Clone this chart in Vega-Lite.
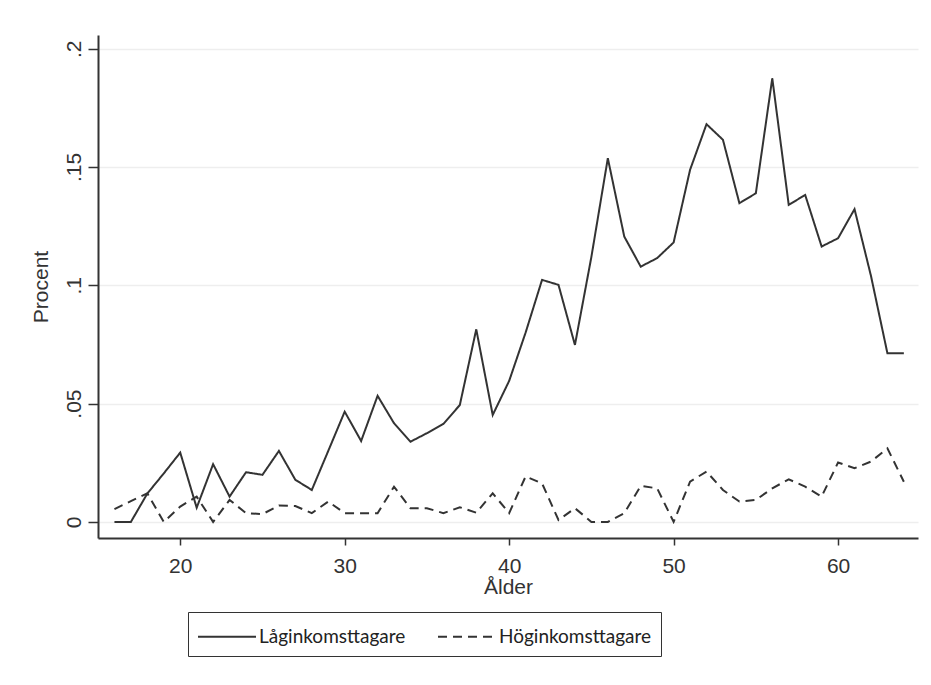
{
  "$schema": "https://vega.github.io/schema/vega-lite/v6.json",
  "autosize": {"type": "none"},
  "padding": {"left": 98, "top": 35, "right": 13, "bottom": 147},
  "width": 820,
  "height": 503,
  "background": "white",
  "config": {
    "view": {"stroke": null},
    "font": "Liberation Sans"
  },
  "data": {
    "values": [
      {"alder": 16, "grupp": "Låginkomsttagare", "procent": 0},
      {"alder": 17, "grupp": "Låginkomsttagare", "procent": 0},
      {"alder": 18, "grupp": "Låginkomsttagare", "procent": 0.012},
      {"alder": 19, "grupp": "Låginkomsttagare", "procent": 0.0205},
      {"alder": 20, "grupp": "Låginkomsttagare", "procent": 0.0293},
      {"alder": 21, "grupp": "Låginkomsttagare", "procent": 0.006},
      {"alder": 22, "grupp": "Låginkomsttagare", "procent": 0.0244},
      {"alder": 23, "grupp": "Låginkomsttagare", "procent": 0.0107},
      {"alder": 24, "grupp": "Låginkomsttagare", "procent": 0.021},
      {"alder": 25, "grupp": "Låginkomsttagare", "procent": 0.0199},
      {"alder": 26, "grupp": "Låginkomsttagare", "procent": 0.030},
      {"alder": 27, "grupp": "Låginkomsttagare", "procent": 0.0178},
      {"alder": 28, "grupp": "Låginkomsttagare", "procent": 0.0135},
      {"alder": 29, "grupp": "Låginkomsttagare", "procent": 0.030},
      {"alder": 30, "grupp": "Låginkomsttagare", "procent": 0.0466},
      {"alder": 31, "grupp": "Låginkomsttagare", "procent": 0.0342},
      {"alder": 32, "grupp": "Låginkomsttagare", "procent": 0.0533},
      {"alder": 33, "grupp": "Låginkomsttagare", "procent": 0.0417},
      {"alder": 34, "grupp": "Låginkomsttagare", "procent": 0.0339},
      {"alder": 35, "grupp": "Låginkomsttagare", "procent": 0.0375},
      {"alder": 36, "grupp": "Låginkomsttagare", "procent": 0.0414},
      {"alder": 37, "grupp": "Låginkomsttagare", "procent": 0.0494},
      {"alder": 38, "grupp": "Låginkomsttagare", "procent": 0.0814},
      {"alder": 39, "grupp": "Låginkomsttagare", "procent": 0.0452},
      {"alder": 40, "grupp": "Låginkomsttagare", "procent": 0.0596},
      {"alder": 41, "grupp": "Låginkomsttagare", "procent": 0.080},
      {"alder": 42, "grupp": "Låginkomsttagare", "procent": 0.1023},
      {"alder": 43, "grupp": "Låginkomsttagare", "procent": 0.1002},
      {"alder": 44, "grupp": "Låginkomsttagare", "procent": 0.0748},
      {"alder": 45, "grupp": "Låginkomsttagare", "procent": 0.112},
      {"alder": 46, "grupp": "Låginkomsttagare", "procent": 0.1537},
      {"alder": 47, "grupp": "Låginkomsttagare", "procent": 0.1206},
      {"alder": 48, "grupp": "Låginkomsttagare", "procent": 0.1079},
      {"alder": 49, "grupp": "Låginkomsttagare", "procent": 0.1115},
      {"alder": 50, "grupp": "Låginkomsttagare", "procent": 0.1181},
      {"alder": 51, "grupp": "Låginkomsttagare", "procent": 0.1488},
      {"alder": 52, "grupp": "Låginkomsttagare", "procent": 0.1681},
      {"alder": 53, "grupp": "Låginkomsttagare", "procent": 0.1615},
      {"alder": 54, "grupp": "Låginkomsttagare", "procent": 0.1347},
      {"alder": 55, "grupp": "Låginkomsttagare", "procent": 0.1389},
      {"alder": 56, "grupp": "Låginkomsttagare", "procent": 0.1875},
      {"alder": 57, "grupp": "Låginkomsttagare", "procent": 0.134},
      {"alder": 58, "grupp": "Låginkomsttagare", "procent": 0.1382},
      {"alder": 59, "grupp": "Låginkomsttagare", "procent": 0.1164},
      {"alder": 60, "grupp": "Låginkomsttagare", "procent": 0.1199},
      {"alder": 61, "grupp": "Låginkomsttagare", "procent": 0.1322},
      {"alder": 62, "grupp": "Låginkomsttagare", "procent": 0.104},
      {"alder": 63, "grupp": "Låginkomsttagare", "procent": 0.0713},
      {"alder": 64, "grupp": "Låginkomsttagare", "procent": 0.0713},
      {"alder": 16, "grupp": "Höginkomsttagare", "procent": 0.0054},
      {"alder": 17, "grupp": "Höginkomsttagare", "procent": 0.0088},
      {"alder": 18, "grupp": "Höginkomsttagare", "procent": 0.0121},
      {"alder": 19, "grupp": "Höginkomsttagare", "procent": 0},
      {"alder": 20, "grupp": "Höginkomsttagare", "procent": 0.0065},
      {"alder": 21, "grupp": "Höginkomsttagare", "procent": 0.0107},
      {"alder": 22, "grupp": "Höginkomsttagare", "procent": 0},
      {"alder": 23, "grupp": "Höginkomsttagare", "procent": 0.0093},
      {"alder": 24, "grupp": "Höginkomsttagare", "procent": 0.0037},
      {"alder": 25, "grupp": "Höginkomsttagare", "procent": 0.0033},
      {"alder": 26, "grupp": "Höginkomsttagare", "procent": 0.0069},
      {"alder": 27, "grupp": "Höginkomsttagare", "procent": 0.0067},
      {"alder": 28, "grupp": "Höginkomsttagare", "procent": 0.0037},
      {"alder": 29, "grupp": "Höginkomsttagare", "procent": 0.0086},
      {"alder": 30, "grupp": "Höginkomsttagare", "procent": 0.0037},
      {"alder": 31, "grupp": "Höginkomsttagare", "procent": 0.0037},
      {"alder": 32, "grupp": "Höginkomsttagare", "procent": 0.0037},
      {"alder": 33, "grupp": "Höginkomsttagare", "procent": 0.0149},
      {"alder": 34, "grupp": "Höginkomsttagare", "procent": 0.0058},
      {"alder": 35, "grupp": "Höginkomsttagare", "procent": 0.0058},
      {"alder": 36, "grupp": "Höginkomsttagare", "procent": 0.0037},
      {"alder": 37, "grupp": "Höginkomsttagare", "procent": 0.0062},
      {"alder": 38, "grupp": "Höginkomsttagare", "procent": 0.0039},
      {"alder": 39, "grupp": "Höginkomsttagare", "procent": 0.0121},
      {"alder": 40, "grupp": "Höginkomsttagare", "procent": 0.0037},
      {"alder": 41, "grupp": "Höginkomsttagare", "procent": 0.0192},
      {"alder": 42, "grupp": "Höginkomsttagare", "procent": 0.0163},
      {"alder": 43, "grupp": "Höginkomsttagare", "procent": 0.0008},
      {"alder": 44, "grupp": "Höginkomsttagare", "procent": 0.0058},
      {"alder": 45, "grupp": "Höginkomsttagare", "procent": 0},
      {"alder": 46, "grupp": "Höginkomsttagare", "procent": 0},
      {"alder": 47, "grupp": "Höginkomsttagare", "procent": 0.0037},
      {"alder": 48, "grupp": "Höginkomsttagare", "procent": 0.0152},
      {"alder": 49, "grupp": "Höginkomsttagare", "procent": 0.0142},
      {"alder": 50, "grupp": "Höginkomsttagare", "procent": 0},
      {"alder": 51, "grupp": "Höginkomsttagare", "procent": 0.017},
      {"alder": 52, "grupp": "Höginkomsttagare", "procent": 0.0213},
      {"alder": 53, "grupp": "Höginkomsttagare", "procent": 0.0135},
      {"alder": 54, "grupp": "Höginkomsttagare", "procent": 0.0086},
      {"alder": 55, "grupp": "Höginkomsttagare", "procent": 0.0093},
      {"alder": 56, "grupp": "Höginkomsttagare", "procent": 0.0142},
      {"alder": 57, "grupp": "Höginkomsttagare", "procent": 0.018},
      {"alder": 58, "grupp": "Höginkomsttagare", "procent": 0.0149},
      {"alder": 59, "grupp": "Höginkomsttagare", "procent": 0.0107},
      {"alder": 60, "grupp": "Höginkomsttagare", "procent": 0.0251},
      {"alder": 61, "grupp": "Höginkomsttagare", "procent": 0.0227},
      {"alder": 62, "grupp": "Höginkomsttagare", "procent": 0.0255},
      {"alder": 63, "grupp": "Höginkomsttagare", "procent": 0.0311},
      {"alder": 64, "grupp": "Höginkomsttagare", "procent": 0.017}
    ]
  },
  "mark": {"type": "line", "color": "#333333", "strokeWidth": 2},
  "encoding": {
    "x": {
      "field": "alder",
      "type": "quantitative",
      "scale": {"domain": [15, 64.86], "nice": false, "zero": false},
      "axis": {
        "title": "Ålder",
        "values": [20, 30, 40, 50, 60],
        "grid": false,
        "domainColor": "#333333",
        "domainWidth": 2,
        "tickColor": "#333333",
        "tickWidth": 1.5,
        "tickSize": 7,
        "labelFontSize": 21,
        "labelColor": "#333333",
        "labelPadding": 10,
        "titleFontSize": 21,
        "titleFontWeight": "normal",
        "titleColor": "#333333",
        "titlePadding": 0
      }
    },
    "y": {
      "field": "procent",
      "type": "quantitative",
      "scale": {"domain": [-0.0068, 0.2058], "nice": false, "zero": false},
      "axis": {
        "title": "Procent",
        "values": [0, 0.05, 0.1, 0.15, 0.2],
        "labelExpr": "datum.value == 0 ? '0' : replace(format(datum.value, '.2~f'), '0.', '.')",
        "grid": true,
        "gridColor": "#eeeeee",
        "gridWidth": 1.5,
        "domainColor": "#333333",
        "domainWidth": 2,
        "tickColor": "#333333",
        "tickWidth": 1.5,
        "tickSize": 10,
        "labelAngle": -90,
        "labelAlign": "center",
        "labelBaseline": "bottom",
        "labelFontSize": 21,
        "labelColor": "#333333",
        "labelPadding": 4,
        "titleFontSize": 21,
        "titleFontWeight": "normal",
        "titleColor": "#333333",
        "titlePadding": 12
      }
    },
    "strokeDash": {
      "field": "grupp",
      "type": "nominal",
      "scale": {
        "domain": ["Låginkomsttagare", "Höginkomsttagare"],
        "range": [[1, 0], [9, 6]]
      },
      "legend": {
        "title": null,
        "orient": "none",
        "direction": "horizontal",
        "legendX": 90,
        "legendY": 577,
        "symbolType": "M-1,0H3",
        "symbolSize": 841,
        "symbolStrokeWidth": 2,
        "symbolStrokeColor": "#333333",
        "labelFont": "Lato",
        "labelFontSize": 19,
        "labelColor": "#222222",
        "labelOffset": 31,
        "columnPadding": 28,
        "strokeColor": "#333333",
        "padding": 9,
        "fillColor": "white"
      }
    }
  }
}
